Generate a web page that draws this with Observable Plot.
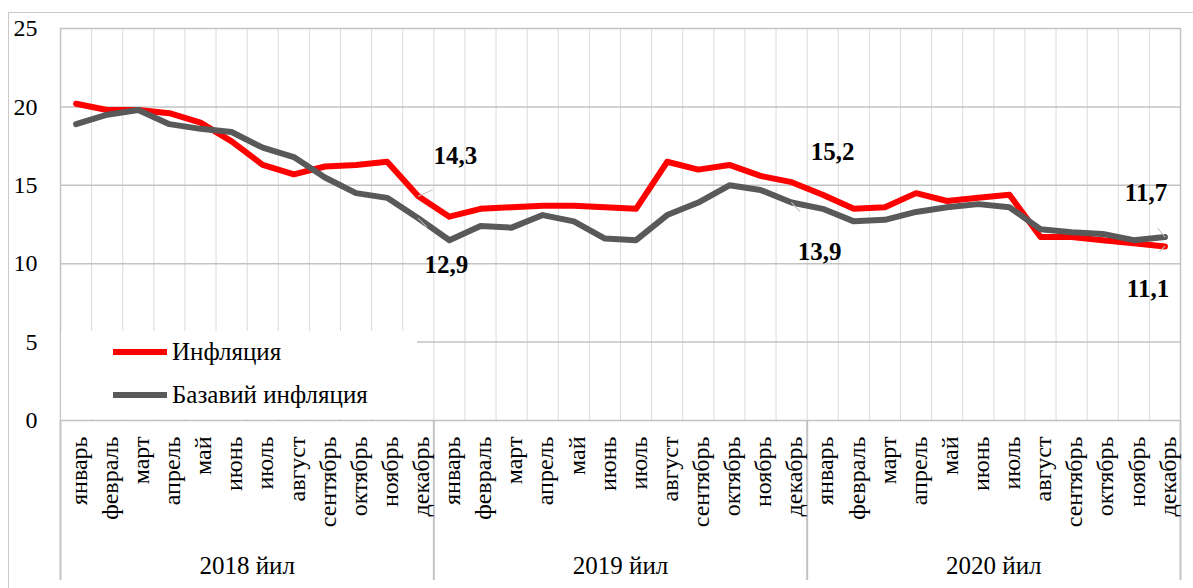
<!DOCTYPE html>
<html>
<head>
<meta charset="utf-8">
<script src="https://cdn.jsdelivr.net/npm/d3@7"></script>
<script src="https://cdn.jsdelivr.net/npm/@observablehq/plot@0.6"></script>
<style>
  body { margin: 0; background: #fff; }
  #wrap { position: relative; width: 1193px; height: 588px; overflow: hidden; font-family: "Liberation Serif", "Times New Roman", Tinos, "DejaVu Serif", serif; }
  #frame { position: absolute; left: 8px; top: 12px; width: 1300px; height: 700px; border-left: 1.5px solid #c9c9c9; border-top: 1.5px solid #c9c9c9; pointer-events: none; }
  #chart { position: absolute; left: 0; top: 0; }
  #chart svg, #chart svg text { font-family: "Liberation Serif", "Times New Roman", Tinos, "DejaVu Serif", serif !important; }
  #legend { position: absolute; left: 61px; top: 331px; width: 356px; height: 88px; background: #fff; }
  .item { position: absolute; left: 52px; height: 30px; display: flex; align-items: center; font-size: 25px; color: #000; white-space: nowrap; }
  .sw { width: 54px; height: 6px; margin-right: 5px; }
</style>
</head>
<body>
<div id="wrap">
  <div id="chart"></div>
  <div id="legend"></div>
  <div id="frame"></div>
</div>
<script>
// ---- data ----
const months = ["январь","февраль","март","апрель","май","июнь","июль","август","сентябрь","октябрь","ноябрь","декабрь"];
const years = ["2018 йил","2019 йил","2020 йил"];
const seriesNames = ["Инфляция","Базавий инфляция"];
const inflation = [
  20.2, 19.8, 19.8, 19.6, 19.0, 17.8, 16.3, 15.7, 16.2, 16.3, 16.5, 14.3,
  13.0, 13.5, 13.6, 13.7, 13.7, 13.6, 13.5, 16.5, 16.0, 16.3, 15.6, 15.2,
  14.4, 13.5, 13.6, 14.5, 14.0, 14.2, 14.4, 11.7, 11.7, 11.5, 11.3, 11.1
];
const coreInflation = [
  18.9, 19.5, 19.8, 18.9, 18.6, 18.4, 17.4, 16.8, 15.5, 14.5, 14.2, 12.9,
  11.5, 12.4, 12.3, 13.1, 12.7, 11.6, 11.5, 13.1, 13.9, 15.0, 14.7, 13.9,
  13.5, 12.7, 12.8, 13.3, 13.6, 13.8, 13.6, 12.2, 12.0, 11.9, 11.5, 11.7
];
const yTicks = [0, 5, 10, 15, 20, 25];
// callouts: series index, month index, label
const callouts = [
  { s: 0, i: 11, label: "14,3" },
  { s: 1, i: 11, label: "12,9" },
  { s: 0, i: 23, label: "15,2" },
  { s: 1, i: 23, label: "13,9" },
  { s: 1, i: 35, label: "11,7" },
  { s: 0, i: 35, label: "11,1" }
];

// ---- styles ----
const colors = ["#ff0000", "#595959"];
const calloutStyle = [
  { dx: 37, dy: -40, len: 48, rot: 66 },
  { dx: 28, dy: 47, len: 39, rot: 136 },
  { dx: 41, dy: -30, len: 0, rot: 0 },
  { dx: 28, dy: 49, len: 38, rot: 137 },
  { dx: -19, dy: -44, len: 35, rot: -39 },
  { dx: -17, dy: 43, len: 24, rot: 228 }
];
const serifStack = "'Liberation Serif', 'Times New Roman', Tinos, 'DejaVu Serif', serif";

// ---- build tables ----
const values = [inflation, coreInflation];
const n = inflation.length;
const rows = [];
values.forEach((arr, s) => arr.forEach((v, i) => rows.push({ s, series: seriesNames[s], i, v })));
const monthRows = d3.range(n).map(i => ({ i, month: months[i % 12] }));
const yearRows = years.map((y, k) => ({ x: k * 12 + 5.5, text: y }));
const boundaries = d3.range(n + 1).map(k => k - 0.5);
const yearBounds = d3.range(0, n + 1, 12).map(k => k - 0.5);
const calloutRows = callouts.map((c, k) => ({ ...c, v: values[c.s][c.i], ...calloutStyle[k] }));

const leaderShape = { draw(ctx, l) { ctx.moveTo(0, 0); ctx.lineTo(0, -l); } };

const plot = Plot.plot({
  width: 1193,
  height: 588,
  marginLeft: 60,
  marginRight: 13,
  marginTop: 28,
  marginBottom: 168,
  style: { fontFamily: serifStack, fontSize: "23px", color: "#000", background: "transparent", overflow: "visible" },
  x: { type: "linear", domain: [-0.5, n - 0.5], axis: null },
  y: { domain: [0, 25], axis: null },
  marks: [
    Plot.ruleX(boundaries.slice(1, -1), { stroke: "#dadada", strokeWidth: 1 }),
    Plot.ruleY(yTicks, { stroke: "#c3c3c3", strokeWidth: 1.5 }),
    Plot.ruleX([boundaries[0], boundaries[boundaries.length - 1]], { stroke: "#c3c3c3", strokeWidth: 1.5 }),
    Plot.ruleX(yearBounds, { stroke: "#c3c3c3", strokeWidth: 2, insetTop: 392, insetBottom: -160 }),
    Plot.text(yTicks, { y: d => d, text: d => String(d), frameAnchor: "left", textAnchor: "end", dx: -23, fontSize: 24, fontFamily: serifStack }),
    Plot.text(monthRows, { x: "i", text: "month", frameAnchor: "bottom", rotate: -90, textAnchor: "end", lineAnchor: "middle", dy: 16, dx: 3, fontSize: 24, fontFamily: serifStack }),
    Plot.text(yearRows, { x: "x", text: "text", frameAnchor: "bottom", lineAnchor: "middle", dy: 145, fontSize: 25, fontFamily: serifStack }),
    Plot.line(rows.filter(d => d.s === 0), { x: "i", y: "v", stroke: colors[0], strokeWidth: 6, strokeLinejoin: "round" }),
    Plot.line(rows.filter(d => d.s === 1), { x: "i", y: "v", stroke: colors[1], strokeWidth: 6, strokeLinejoin: "round" }),
    Plot.vector(calloutRows.filter(d => d.len > 0), { x: "i", y: "v", length: d => d.len, rotate: "rot", anchor: "start", shape: leaderShape, stroke: "#bfbfbf", strokeWidth: 1 }),
    ...calloutRows.map(c => Plot.text([c], { x: "i", y: "v", text: "label", dx: c.dx, dy: c.dy, fontWeight: "bold", fontSize: 25, lineAnchor: "middle", fontFamily: serifStack }))
  ]
});
document.getElementById("chart").appendChild(plot);

// legend
const legend = document.getElementById("legend");
seriesNames.forEach((name, k) => {
  const item = document.createElement("div");
  item.className = "item";
  item.style.top = (k === 0 ? 6 : 49) + "px";
  const sw = document.createElement("span");
  sw.className = "sw";
  sw.style.background = colors[k];
  const t = document.createElement("span");
  t.textContent = name;
  item.appendChild(sw);
  item.appendChild(t);
  legend.appendChild(item);
});
</script>
</body>
</html>
